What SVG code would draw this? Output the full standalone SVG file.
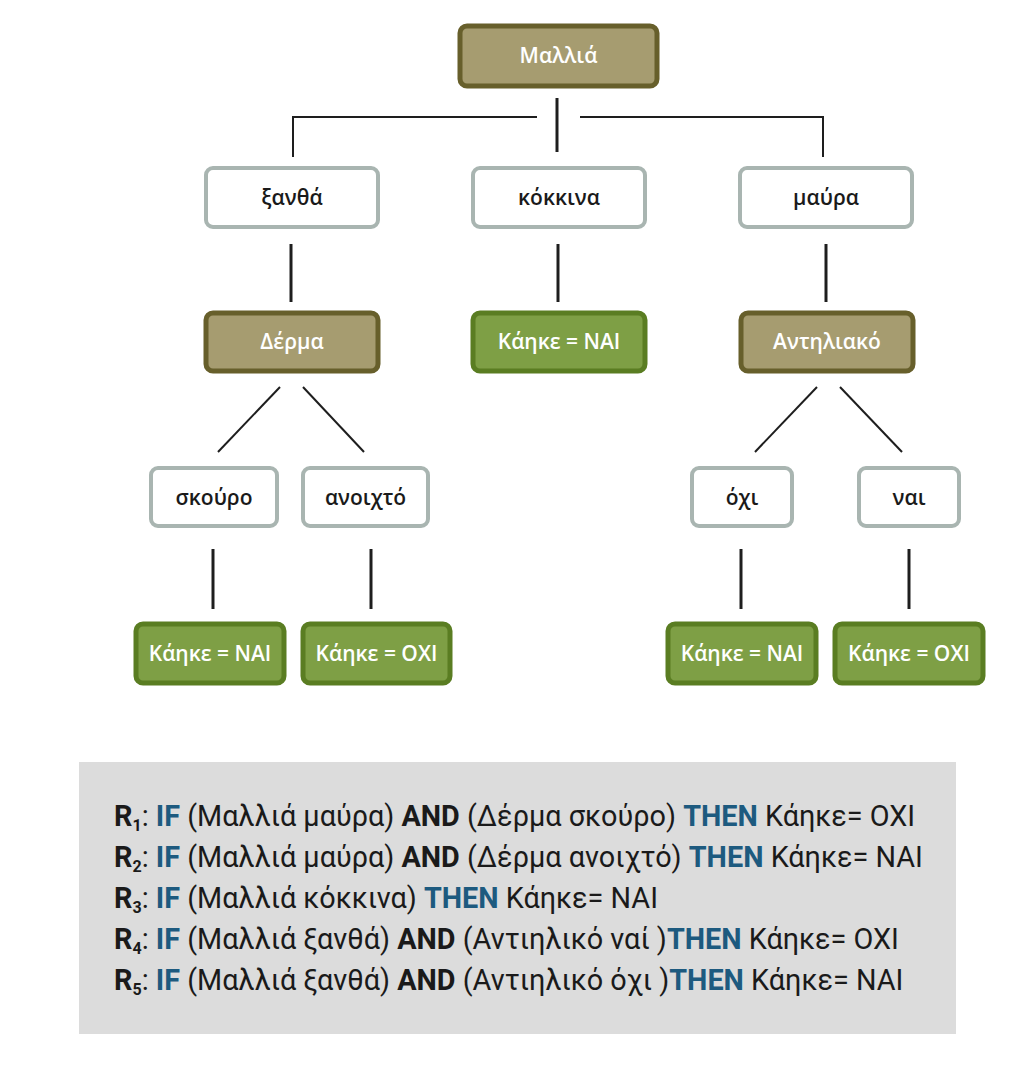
<svg xmlns="http://www.w3.org/2000/svg" width="1036" height="1075" viewBox="0 0 1036 1075">
<style>
.attr rect{fill:#a69c70;stroke:#675f2b;stroke-width:5}
.val rect{fill:#ffffff;stroke:#a9b5b1;stroke-width:4}
.leaf rect{fill:#7e9f45;stroke:#5a7d22;stroke-width:5}
.attr text,.leaf text{fill:#ffffff}
.val text{fill:#1a1a1a}
text{font-family:"Open Sans","Noto Sans","DejaVu Sans",sans-serif;font-weight:600;font-size:21px;text-anchor:middle}
.conn line{stroke:#1e1e1e;stroke-width:2}
.conn line.v{stroke-width:3}
.rules text{font-family:Roboto,"Noto Sans",sans-serif;font-weight:400;font-size:28.8px;text-anchor:start;fill:#1a1a1a}
.b{font-weight:700}
.k{font-weight:700;fill:#1d5a7f}
.s{font-size:16px;font-weight:700}
</style>
<rect x="0" y="0" width="1036" height="1075" fill="#ffffff"/>
<g class="conn">
<line class="v" x1="557" y1="98" x2="557" y2="152"/>
<line x1="292" y1="117" x2="537" y2="117"/>
<line x1="580" y1="117" x2="823" y2="117"/>
<line x1="293" y1="116" x2="293" y2="157"/>
<line x1="823" y1="116" x2="823" y2="157"/>
<line class="v" x1="291" y1="244" x2="291" y2="302"/>
<line class="v" x1="558" y1="244" x2="558" y2="302"/>
<line class="v" x1="826" y1="244" x2="826" y2="302"/>
<line x1="280" y1="387" x2="218" y2="452"/>
<line x1="303" y1="387" x2="364" y2="452"/>
<line x1="817" y1="387" x2="755" y2="452"/>
<line x1="840" y1="387" x2="902" y2="452"/>
<line class="v" x1="213" y1="549" x2="213" y2="609"/>
<line class="v" x1="371" y1="549" x2="371" y2="609"/>
<line class="v" x1="741" y1="549" x2="741" y2="609"/>
<line class="v" x1="909" y1="549" x2="909" y2="609"/>
</g>
<g id="n-mallia" class="attr"><rect x="460" y="26" width="197" height="60" rx="7"/><text x="558.5" y="63">Μαλλιά</text></g>
<g id="n-xantha" class="val"><rect x="206" y="168" width="172" height="59" rx="7"/><text x="292" y="205">ξανθά</text></g>
<g id="n-kokkina" class="val"><rect x="473" y="168" width="172" height="59" rx="7"/><text x="559" y="205">κόκκινα</text></g>
<g id="n-mavra" class="val"><rect x="740" y="168" width="172" height="59" rx="7"/><text x="826" y="205">μαύρα</text></g>
<g id="n-derma" class="attr"><rect x="206" y="313" width="172" height="58" rx="7"/><text x="292" y="349">Δέρμα</text></g>
<g id="n-leaf-kokkina" class="leaf"><rect x="473" y="313" width="172" height="58" rx="7"/><text x="559" y="349">Κάηκε = ΝΑΙ</text></g>
<g id="n-antiliako" class="attr"><rect x="741" y="313" width="172" height="58" rx="7"/><text x="827" y="349">Αντηλιακό</text></g>
<g id="n-skouro" class="val"><rect x="151" y="468" width="126" height="58" rx="7"/><text x="214" y="505">σκούρο</text></g>
<g id="n-anoixto" class="val"><rect x="303" y="468" width="125" height="58" rx="7"/><text x="365.5" y="505">ανοιχτό</text></g>
<g id="n-oxi" class="val"><rect x="692" y="468" width="100" height="58" rx="7"/><text x="742" y="505">όχι</text></g>
<g id="n-nai" class="val"><rect x="859" y="468" width="100" height="58" rx="7"/><text x="909" y="505">ναι</text></g>
<g id="n-leaf1" class="leaf"><rect x="136" y="624" width="148" height="59" rx="7"/><text x="210" y="661">Κάηκε = ΝΑΙ</text></g>
<g id="n-leaf2" class="leaf"><rect x="303" y="624" width="147" height="59" rx="7"/><text x="376.5" y="661">Κάηκε = ΟΧΙ</text></g>
<g id="n-leaf3" class="leaf"><rect x="668" y="624" width="148" height="59" rx="7"/><text x="742" y="661">Κάηκε = ΝΑΙ</text></g>
<g id="n-leaf4" class="leaf"><rect x="835" y="624" width="148" height="59" rx="7"/><text x="909" y="661">Κάηκε = ΟΧΙ</text></g>
<g id="rules" class="rules">
<rect x="79" y="762" width="877" height="272" fill="#dcdcdc"/>
<text x="114" y="826"><tspan class="b">R</tspan><tspan class="s" dy="5">1</tspan><tspan dy="-5">: </tspan><tspan class="k">IF</tspan> (Μαλλιά μαύρα) <tspan class="b">AND</tspan> (Δέρμα σκούρο) <tspan class="k">THEN</tspan> Κάηκε= ΟΧΙ</text>
<text x="114" y="867"><tspan class="b">R</tspan><tspan class="s" dy="5">2</tspan><tspan dy="-5">: </tspan><tspan class="k">IF</tspan> (Μαλλιά μαύρα) <tspan class="b">AND</tspan> (Δέρμα ανοιχτό) <tspan class="k">THEN</tspan> Κάηκε= ΝΑΙ</text>
<text x="114" y="908"><tspan class="b">R</tspan><tspan class="s" dy="5">3</tspan><tspan dy="-5">: </tspan><tspan class="k">IF</tspan> (Μαλλιά κόκκινα) <tspan class="k">THEN</tspan> Κάηκε= ΝΑΙ</text>
<text x="114" y="949"><tspan class="b">R</tspan><tspan class="s" dy="5">4</tspan><tspan dy="-5">: </tspan><tspan class="k">IF</tspan> (Μαλλιά ξανθά) <tspan class="b">AND</tspan> (Αντιηλικό ναί )<tspan class="k">THEN</tspan> Κάηκε= ΟΧΙ</text>
<text x="114" y="990"><tspan class="b">R</tspan><tspan class="s" dy="5">5</tspan><tspan dy="-5">: </tspan><tspan class="k">IF</tspan> (Μαλλιά ξανθά) <tspan class="b">AND</tspan> (Αντιηλικό όχι )<tspan class="k">THEN</tspan> Κάηκε= ΝΑΙ</text>
</g>
</svg>
